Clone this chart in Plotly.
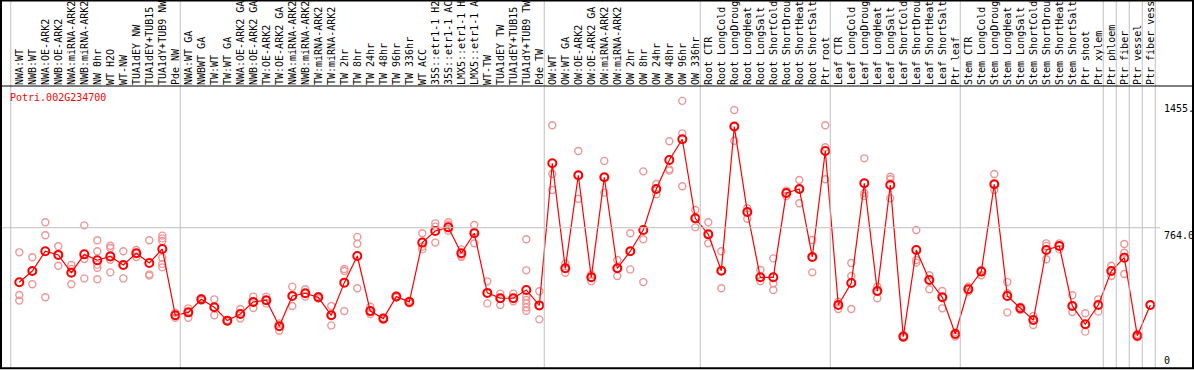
import plotly.graph_objects as go

title = "Potri.002G234700"

labels = [
    "NWA:WT", "NWB:WT", "NWA:OE-ARK2", "NWB:OE-ARK2", "NWA:miRNA-ARK2", "NWB:miRNA-ARK2",
    "NW 0hr", "WT H2O", "WT-NW", "TUA1dEY NW", "TUA1dEY+TUB15", "TUA1dY+TUB9 NW", "Pde NW",
    "NWA:WT GA", "NWBWT GA", "TW:WT", "TW:WT GA", "NWA:OE-ARK2 GA", "NWB:OE-ARK2 GA",
    "TW:OE-ARK2", "TW:OE-ARK2 GA", "NWA:miRNA-ARK2", "NWB:miRNA-ARK2", "TW:miRNA-ARK2",
    "TW:miRNA-ARK2", "TW 2hr", "TW 8hr", "TW 24hr", "TW 48hr", "TW 96hr", "TW 336hr",
    "WT ACC", "35S::etr1-1 H2", "35S::etr1-1 AC", "LMX5::etr1-1 H", "LMX5::etr1-1 A",
    "WT-TW", "TUA1dEY TW", "TUA1dEY+TUB15", "TUA1dY+TUB9 TW", "Pde TW",
    "OW:WT", "OW:WT GA", "OW:OE-ARK2", "OW:OE-ARK2 GA", "OW:miRNA-ARK2", "OW:miRNA-ARK2",
    "OW 2hr", "OW 8hr", "OW 24hr", "OW 48hr", "OW 96hr", "OW 336hr",
    "Root CTR", "Root LongCold", "Root LongDroug", "Root LongHeat", "Root LongSalt",
    "Root ShortCold", "Root ShortDrou", "Root ShortHeat", "Root ShortSalt", "Ptr root",
    "Leaf CTR", "Leaf LongCold", "Leaf LongDroug", "Leaf LongHeat", "Leaf LongSalt",
    "Leaf ShortCold", "Leaf ShortDrou", "Leaf ShortHeat", "Leaf ShortSalt", "Ptr leaf",
    "Stem CTR", "Stem LongCold", "Stem LongDroug", "Stem LongHeat", "Stem LongSalt",
    "Stem ShortCold", "Stem ShortDrou", "Stem ShortHeat", "Stem ShortSalt", "Ptr shoot",
    "Ptr xylem", "Ptr phloem", "Ptr fiber", "Ptr vessel", "Ptr fiber vess",
]

group_sizes = [13, 28, 12, 10, 10, 11, 1, 1, 1, 1]

means = [
    467, 528, 636, 616, 519, 619, 587, 608, 561, 625, 572, 648, 287,
    303, 374, 331, 258, 294, 360, 369, 227, 392, 407, 385, 287, 465, 610, 310, 269, 389,
    360, 683, 746, 766, 625, 734, 409, 380, 380, 425, 341,
    1115, 543, 1050, 494, 1039, 543, 636, 752, 975, 1133, 1246, 815,
    728, 530, 1315, 850, 494, 494, 953, 975, 605, 1182,
    343, 463, 1006, 419, 997, 171, 643, 479, 385, 185,
    429, 525, 1001, 392, 325, 261, 643, 665, 338, 238, 343,
    528, 601, 176, 343,
]

replicates = [
    [630, 398, 367], [603, 528, 456], [794, 723, 385], [663, 616, 557], [561, 540, 456],
    [777, 594, 488], [696, 636, 563, 546, 483], [666, 654, 590, 521], [636, 559, 488],
    [643, 625, 605], [696, 510, 503], [721, 706, 692, 601, 567, 548], [301, 287, 274],
    [325, 300, 274], [380, 374, 368], [374, 331, 287], [262, 258, 254], [321, 294, 269],
    [389, 360, 327], [389, 369, 352], [243, 227, 203], [443, 392, 338], [429, 407, 389],
    [392, 385, 378], [338, 287, 232], [539, 528, 310], [714, 677, 434], [334, 310, 294],
    [274, 269, 264], [394, 389, 384], [367, 360, 352], [734, 661, 646], [788, 770, 683],
    [794, 781, 748], [646, 612, 605], [779, 745, 679], [472, 409, 352], [405, 380, 343],
    [405, 380, 363], [701, 532, 389, 370, 352, 330, 312], [418, 341, 265],
    [1322, 1057, 970], [570, 543, 519], [1182, 1050, 922], [510, 494, 472],
    [1128, 1039, 955], [588, 543, 501], [734, 636, 537], [1071, 701, 468],
    [1002, 975, 946], [1235, 1082, 1075], [1455, 1278, 990], [861, 815, 766],
    [794, 728, 679], [636, 530, 434], [1405, 1315, 1238], [870, 850, 813],
    [534, 494, 472], [597, 461, 425], [966, 953, 937], [1024, 975, 897],
    [697, 605, 521], [1322, 1202, 1028],
    [361, 343, 321], [572, 501, 321], [1142, 953, 937], [443, 419, 380],
    [1042, 1028, 924], [176, 171, 165], [752, 588, 574], [505, 479, 429],
    [419, 385, 325], [194, 185, 171],
    [443, 429, 416], [534, 525, 505], [1057, 1001, 970], [468, 407, 303],
    [334, 325, 316], [283, 261, 234], [679, 665, 592], [679, 665, 646],
    [396, 338, 305], [298, 238, 198], [374, 343, 307],
    [557, 528, 501], [675, 628, 512], [185, 176, 167], [343],
]

ref_value = 764.0
max_value = 1455.0
y_max = 1536
right_labels = ["1455.", "764.0", "0"]

MONO = "DejaVu Sans Mono"
W, H = 1194, 370
T, B = 86, 2
PH = H - T - B

idx = list(range(len(labels)))
rep_x, rep_y = [], []
for i, reps in enumerate(replicates):
    for v in reps:
        rep_x.append(i)
        rep_y.append(v)

fig = go.Figure()
fig.add_trace(go.Scatter(
    x=rep_x, y=rep_y, mode="markers", hoverinfo="skip",
    marker=dict(symbol="circle-open", size=7, color="rgb(238,150,150)",
                line=dict(width=1.4, color="rgb(238,150,150)")),
))
fig.add_trace(go.Scatter(
    x=idx, y=means, mode="lines+markers",
    line=dict(color="rgb(255,0,0)", width=1.2),
    marker=dict(symbol="circle-open", size=8, color="rgb(255,0,0)",
                line=dict(width=2, color="rgb(255,0,0)")),
))

def py2paper(py):
    return (H - B - py) / PH

shapes = []
bounds = [-0.66]
acc = 0
for g in group_sizes:
    acc += g
    bounds.append(acc - 1 + 0.38)
for b in bounds:
    shapes.append(dict(type="line", xref="x", yref="paper", x0=b, x1=b,
                       y0=0, y1=py2paper(0), line=dict(color="rgb(192,192,192)", width=1)))
shapes.append(dict(type="line", xref="paper", yref="y", x0=0, x1=1160 / W,
                   y0=ref_value, y1=ref_value, line=dict(color="rgb(192,192,192)", width=1)))
shapes.append(dict(type="line", xref="paper", yref="paper", x0=0, x1=1,
                   y0=1, y1=1, line=dict(color="black", width=1)))
shapes.append(dict(type="rect", xref="paper", yref="paper", x0=1 / W, x1=(W - 1) / W,
                   y0=py2paper(368.3), y1=py2paper(0.5), line=dict(color="black", width=2)))

afont = dict(family=MONO, size=10, color="black")
annotations = [
    dict(text=title, xref="paper", yref="paper", x=8 / W, y=py2paper(97), xanchor="left",
         yanchor="middle", showarrow=False, font=dict(family=MONO, size=10, color="red")),
    dict(text=right_labels[0], xref="paper", yref="y", x=1162 / W, y=max_value,
         xanchor="left", yanchor="top", showarrow=False, font=afont),
    dict(text=right_labels[1], xref="paper", yref="y", x=1162 / W, y=ref_value,
         xanchor="left", yanchor="top", showarrow=False, font=afont),
    dict(text=right_labels[2], xref="paper", yref="y", x=1162 / W, y=0,
         xanchor="left", yanchor="bottom", showarrow=False, font=afont),
]

fig.update_layout(
    template="none",
    width=W, height=H,
    margin=dict(l=0, r=0, t=T, b=B, pad=0),
    paper_bgcolor="white", plot_bgcolor="white",
    showlegend=False,
    hovermode=False,
    xaxis=dict(range=[-19.3 / 13, -19.3 / 13 + W / 13], side="top", tickmode="array",
               tickvals=idx, ticktext=labels, tickangle=-90, ticks="", ticklen=0,
               showgrid=False, zeroline=False, showline=False, automargin=False,
               tickfont=dict(family=MONO, size=10, color="black")),
    yaxis=dict(range=[0, y_max], showticklabels=False, showgrid=False, zeroline=False,
               showline=False, automargin=False),
    shapes=shapes,
    annotations=annotations,
)

fig.write_html("out.html", config={"displayModeBar": False},
               post_script="document.body.style.margin='0px';")
